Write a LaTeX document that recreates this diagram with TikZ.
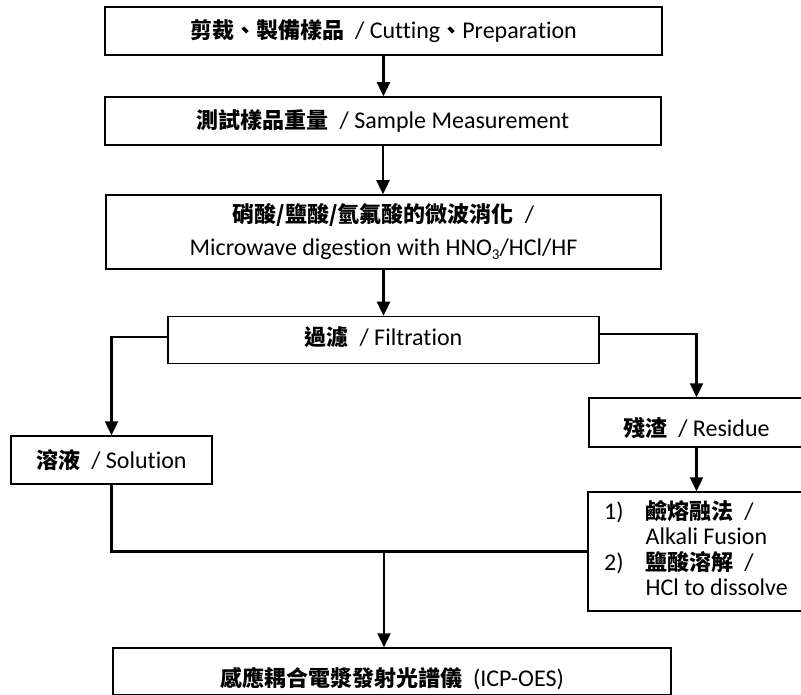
\documentclass[tikz,border=0pt]{standalone}
\usepackage{fontspec}
\setmainfont{Carlito}[Ligatures=NoCommon]
\newfontfamily\cjkf{Noto Sans CJK TC}
\usetikzlibrary{arrows.meta}
\newcommand\zh[1]{{\cjkf\bfseries\fontsize{22}{22}\selectfont #1}}
\begin{document}
\begin{tikzpicture}[x=1pt,y=-1pt,
  box/.style={draw, line width=1.5pt, inner sep=0pt, align=center,
    font=\fontsize{24}{33}\selectfont},
  flow/.style={line width=2.4pt, -{Triangle[length=14pt,width=13pt]}},
  link/.style={line width=2.4pt}]
\useasboundingbox (0,0) rectangle (801,695);
\fill[white] (0,0) rectangle (801,695);
\clip (0,0) rectangle (801,695);

\node[box, minimum width=557pt, minimum height=48pt] (cut) at (383.5,31)
  {\zh{剪裁、製備樣品}\ \ / Cutting\zh{、}Preparation};
\node[box, minimum width=556pt, minimum height=48pt] (meas) at (383,121)
  {\zh{測試樣品重量}\ \ / Sample Measurement};
\node[box, minimum width=555pt, minimum height=74pt] (mw) at (383.5,232)
  {\zh{硝酸/鹽酸/氫氟酸的微波消化}\ \ / \\ Microwave digestion with HNO{\fontsize{15}{15}\selectfont\raisebox{-3.5pt}{3}}/HCl/HF};
\node[box, minimum width=431pt, minimum height=47pt, text depth=8pt] (filt) at (383.5,340)
  {\zh{過濾}\ \ / Filtration};
\node[box, minimum width=201pt, minimum height=48pt] (sol) at (111.5,460)
  {\zh{溶液}\ \ / Solution};
\node[box, minimum width=215pt, minimum height=49pt, text height=32pt, text depth=4pt] (res) at (696.5,422.5)
  {\zh{殘渣}\ \ / Residue};
\node[box, minimum width=216pt, minimum height=119pt, font=\fontsize{24}{24.5}\selectfont] (alk) at (696,551.5)
  {\begin{tabular}{@{}l@{\hspace{22pt}}l@{}}
   1) & \zh{鹼熔融法}\ \ / \\
      & Alkali Fusion \\
   2) & \zh{鹽酸溶解}\ \ / \\
      & HCl to dissolve
   \end{tabular}};
\node[box, minimum width=558pt, minimum height=47pt, text height=34pt, text depth=4pt] (icp) at (392,671.5)
  {\zh{感應耦合電漿發射光譜儀}\ \ (ICP-OES)};

\coordinate (j) at (384,552);

\draw[flow] (cut.south) -- (cut.south |- meas.north);
\draw[flow] (meas.south) -- (meas.south |- mw.north);
\draw[flow] (mw.south) -- (mw.south |- filt.north);
\draw[flow] ([yshift=3pt]filt.west) -| (sol.north);
\draw[flow] ([yshift=6pt]filt.east) -| (res.north);
\draw[flow] (res.south) -- (res.south |- alk.north);
\draw[link] (sol.south) |- (alk.west);
\draw[flow] (j) -- (j |- icp.north);
\end{tikzpicture}
\end{document}
